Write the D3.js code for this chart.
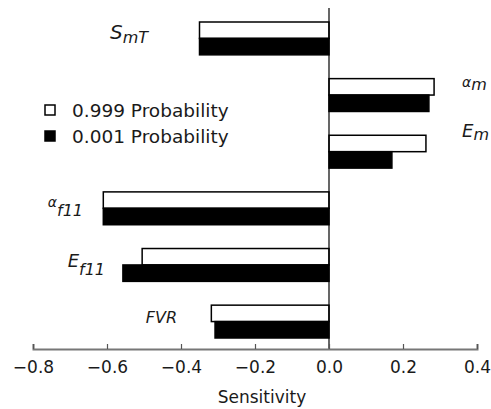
<!DOCTYPE html>
<html>
<head>
<meta charset="utf-8">
<script src="https://cdn.jsdelivr.net/npm/d3@7"></script>
<style>
  body { margin: 0; background: #fff; }
  svg text { font-family: "DejaVu Sans", sans-serif; fill: #1a1a1a; }
</style>
</head>
<body>
<script>
const w = 491;
const h = 409;

// parameters, top to bottom
const params = ["SmT", "am", "Em", "af11", "Ef11", "FVR"];
// sensitivity at 0.999 probability (white bars)
const high = [-0.35, 0.284, 0.262, -0.61, -0.505, -0.318];
// sensitivity at 0.001 probability (black bars)
const low = [-0.35, 0.27, 0.17, -0.61, -0.557, -0.308];
const ticks = [-0.8, -0.6, -0.4, -0.2, 0.0, 0.2, 0.4];
const seriesNames = ["0.999 Probability", "0.001 Probability"];

const rows = params.map((p, i) => ({ p, hi: high[i], lo: low[i] }));

const svg = d3.select("body").append("svg").attr("width", w).attr("height", h);

const x = d3.scaleLinear().domain([-0.8, 0.4]).range([33, 477]);
const y = d3.scaleBand().domain(params).range([22, 338]).paddingInner(0.42).paddingOuter(0);
const y2 = d3.scaleBand().domain(["hi", "lo"]).range([0, y.bandwidth()]);

// bars
const groups = svg.selectAll("g.row")
  .data(rows)
  .enter()
  .append("g")
  .attr("class", "row")
  .attr("transform", (d) => `translate(0, ${y(d.p)})`);

groups.selectAll("rect")
  .data((d) => [{ k: "hi", v: d.hi }, { k: "lo", v: d.lo }])
  .enter()
  .append("rect")
  .attr("x", (d) => Math.min(x(0), x(d.v)))
  .attr("y", (d) => y2(d.k))
  .attr("width", (d) => Math.abs(x(d.v) - x(0)))
  .attr("height", y2.bandwidth())
  .attr("fill", (d) => (d.k === "hi" ? "#fff" : "#000"))
  .attr("stroke", "#000")
  .attr("stroke-width", 1.5);

// zero line
svg.append("line")
  .attr("x1", x(0)).attr("x2", x(0))
  .attr("y1", 8).attr("y2", 349)
  .attr("stroke", "#000").attr("stroke-width", 1.2);

// x axis
const xAxis = d3.axisBottom(x)
  .tickValues(ticks)
  .tickSize(-5)
  .tickPadding(12)
  .tickFormat(d3.format(".1f"));
const ax = svg.append("g")
  .attr("transform", `translate(0, 349)`)
  .call(xAxis);
ax.select(".domain").attr("stroke", "#777").attr("stroke-width", 2);
ax.selectAll(".tick line").attr("stroke", "#555").attr("stroke-width", 1.2);
ax.selectAll(".tick text").attr("font-size", 17).attr("fill", "#1a1a1a")
  .attr("font-family", "DejaVu Sans, sans-serif");

svg.append("text")
  .attr("x", 262)
  .attr("y", 403)
  .attr("text-anchor", "middle")
  .attr("font-size", 17)
  .text("Sensitivity");

// legend
const legend = svg.append("g").attr("transform", "translate(45, 105)");
seriesNames.forEach((name, i) => {
  legend.append("rect")
    .attr("x", 0).attr("y", i * 26)
    .attr("width", 10).attr("height", 10)
    .attr("fill", i === 0 ? "#fff" : "#000")
    .attr("stroke", "#000").attr("stroke-width", 1.5);
  legend.append("text")
    .attr("x", 27).attr("y", i * 26 + 12)
    .attr("font-size", 18.5)
    .text(name);
});

// parameter labels: offsets are relative to the centre of each bar pair
const labelDefs = {
  SmT: { main: "S", sub: "mT", x: 148, anchor: "end", ms: 20, ss: 16, my: 1, sy: 4.6 },
  am: { main: "α", sub: "m", x: 462, anchor: "start", ms: 14, ss: 16, my: -8, sy: -5 },
  Em: { main: "E", sub: "m", x: 462, anchor: "start", ms: 18, ss: 16, my: -14.6, sy: -11.6 },
  af11: { main: "α", sub: "f11", x: 83, anchor: "end", ms: 14, ss: 16, my: -1, sy: 8 },
  Ef11: { main: "E", sub: "f11", x: 105, anchor: "end", ms: 18, ss: 16, my: 2, sy: 10 },
  FVR: { main: "FVR", sub: "", x: 177, anchor: "end", ms: 16, ss: 16, my: 1.6, sy: 1.6 }
};

params.forEach((p) => {
  const def = labelDefs[p];
  const cy = y(p) + y.bandwidth() / 2;
  const t = svg.append("text")
    .attr("x", def.x)
    .attr("y", cy)
    .attr("text-anchor", def.anchor)
    .attr("font-family", "Liberation Sans, Arial, sans-serif")
    .attr("font-style", "italic");
  t.append("tspan")
    .attr("dy", def.my)
    .attr("font-size", def.ms)
    .text(def.main);
  if (def.sub) {
    t.append("tspan")
      .attr("dy", def.sy - def.my)
      .attr("font-size", def.ss)
      .text(def.sub);
  }
});
</script>
</body>
</html>
